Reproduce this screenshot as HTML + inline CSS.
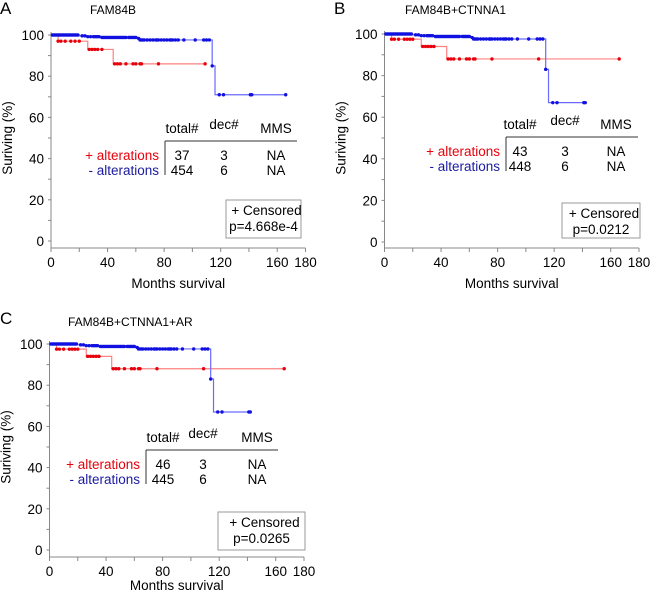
<!DOCTYPE html>
<html><head><meta charset="utf-8"><style>
body{margin:0;background:#fff}
svg{display:block;font-family:"Liberation Sans",Arial,sans-serif}
</style></head><body>
<svg id="c" width="650" height="596" viewBox="0 0 650 596"></svg>
<script>
// ---- data ----
const xTicks = [0,40,80,120,160,180];
const yTicks = [0,20,40,60,80,100];
// Panel A
const aTitle = "FAM84B";
const aRedTimes = [0,5,26,44,109];
const aRedSurv = [100,97,93,86,86];
const aRedCens = [5,7,10,14,17,20,27,29,31,33,36,45,47,49,53,58,60,63,64,76,109];
const aBlueTimes = [0,20,25,35,61,63,114,116,166];
const aBlueSurv = [100,99.6,99.2,98.8,98.3,97.6,85,71,71];
const aBlueCens = [1,2,3,4,5,6,7,8,9,10,11,12,13,14,15,16,17,18,19,22,24,26,28,30,31,32,33,34,36,37,38,39,40,41,42,43,44,45,46,47,48,49,50,51,52,53,55,56,57,58,59,60,62,63,64,65,66,68,70,72,74,75,76,78,80,82,84,85,86,88,90,94,102,108,110,112,114,119,122,141,142,166];
const aTable = [["37","3","NA"],["454","6","NA"]];
const aP = "p=4.668e-4";
// Panel B
const bTitle = "FAM84B+CTNNA1";
const bRedTimes = [0,5,26,44,166];
const bRedSurv = [100,97.5,94,88,88];
const bRedCens = [5,7,10,14,16,18,20,27,29,31,33,35,45,47,49,53,58,60,63,64,76,109,166];
const bBlueTimes = [0,20,25,35,61,63,114,116,142];
const bBlueSurv = [100,99.6,99.2,98.8,98.3,97.6,83,67,67];
const bBlueCens = [1,2,3,4,5,6,7,8,9,10,11,12,13,14,15,16,17,18,19,22,24,26,28,30,31,32,33,34,36,37,38,39,40,41,42,43,44,45,46,47,48,49,50,51,52,53,55,56,57,58,59,60,62,63,64,65,66,68,70,72,74,75,76,78,80,82,84,85,86,88,90,94,102,108,110,112,114,119,122,141,142];
const bTable = [["43","3","NA"],["448","6","NA"]];
const bP = "p=0.0212";
// Panel C
const cTitle = "FAM84B+CTNNA1+AR";
const cRedTimes = [0,5,26,44,166];
const cRedSurv = [100,97.5,94,88,88];
const cRedCens = bRedCens;
const cBlueTimes = bBlueTimes;
const cBlueSurv = bBlueSurv;
const cBlueCens = bBlueCens;
const cTable = [["46","3","NA"],["445","6","NA"]];
const cP = "p=0.0265";

const svg = document.getElementById('c');
const NS = "http://www.w3.org/2000/svg";
function mk(tag, attrs, parent){
  const e = document.createElementNS(NS, tag);
  for (const k in attrs) e.setAttribute(k, attrs[k]);
  (parent||svg).appendChild(e); return e;
}
function txt(s, x, y, size, fill, anchor, parent){
  const t = mk('text', {x:x, y:y, 'font-size':size, fill:fill, 'text-anchor':anchor||'start'}, parent);
  t.textContent = s; return t;
}
function stepFn(times, surv, t){
  let v = surv[0];
  for (let i=0;i<times.length;i++) if (times[i] <= t) v = surv[i];
  return v;
}
function panel(cfg){
  const g = mk('g', {});
  
  
  const X = m => cfg.x0 + m*cfg.ppm;
  const Y = v => cfg.y0 - v*(cfg.y0-cfg.y100)/100;
  const L = txt(cfg.letter, cfg.lx, cfg.ly, 17, '#000', 'start', g);
   
  const T = txt(cfg.title, cfg.tx, cfg.ty, 12, '#000', 'start', g);
   
  const ax = mk('g', {stroke:'#888', 'stroke-width':1}, g);
   
  mk('line', {x1:cfg.x0, y1:Y(100)-3, x2:cfg.x0, y2:cfg.axY}, ax);
  mk('line', {x1:cfg.x0, y1:cfg.axY, x2:X(180), y2:cfg.axY}, ax);
  for (let v=0; v<=100; v+=10) mk('line', {x1:cfg.x0-3, y1:Y(v), x2:cfg.x0, y2:Y(v)}, ax);
  for (let m=0; m<=180; m+=20) mk('line', {x1:X(m), y1:cfg.axY, x2:X(m), y2:cfg.axY+4}, ax);
  yTicks.forEach(v => {
    const t = txt(String(v), cfg.x0-7, Y(v)+5, 13.5, '#000', 'end', g);
     
  });
  xTicks.forEach(m => {
    if (X(m) > 650) return;
    const t = txt(String(m), X(m), cfg.axY+19, 13.5, '#000', 'middle', g);
     
  });
  const yl = txt('Suriving (%)', 0, 0, 13.5, '#000', 'middle', g);
  yl.setAttribute('transform', `translate(${cfg.x0-39},${(Y(0)+Y(100))/2}) rotate(-90)`);
   
  const xl = txt('Months survival', X(90), cfg.axY+cfg.xlOff, 13.5, '#000', 'middle', g);
   
  function series(times, surv, cens, lineCol, dotCol, nm){
    let d = `M${X(times[0])},${Y(surv[0])}`;
    for (let i=1;i<times.length;i++){
      d += ` H${X(times[i])} V${Y(surv[i])}`;
    }
    const p = mk('path', {d:d, fill:'none', stroke:lineCol, 'stroke-width':1.2}, g);
     
    cens.forEach(m => {
      const c = mk('circle', {cx:X(m), cy:Y(stepFn(times, surv, m)), r:1.7, fill:dotCol}, g);
       
    });
  }
  series(cfg.redT, cfg.redS, cfg.redC, '#ff8080', '#e8000b', 'altered');
  series(cfg.blueT, cfg.blueS, cfg.blueC, '#6a6aff', '#1010e0', 'unaltered');
  const tb = cfg.tb;
  const tg = mk('g', {}, g);
   
  mk('line', {x1:tb.lx, y1:tb.ly, x2:tb.rx, y2:tb.ly, stroke:'#333', 'stroke-width':1}, tg);
  mk('line', {x1:tb.lx, y1:tb.ly, x2:tb.lx, y2:tb.ly+34, stroke:'#333', 'stroke-width':1}, tg);
  ['total#','dec#','MMS'].forEach((h,i)=>{
    txt(h, tb.cols[i], tb.ly-(i==1?12:8), 13.5, '#000', 'middle', tg);
  });
  txt('+ alterations', tb.lx-6, tb.ly+19, 13.5, '#e8000b', 'end', tg);
  txt('- alterations', tb.lx-6, tb.ly+34, 13.5, '#1a1aa0', 'end', tg);
  cfg.table.forEach((row,r)=>row.forEach((v,i)=>{
    txt(v, tb.cols[i], tb.ly+19+r*15, 13.5, '#000', 'middle', tg);
  }));
  const lb = cfg.lb;
  const lg = mk('g', {}, g);
   
  mk('rect', {x:lb.x, y:lb.y, width:lb.w, height:lb.h, fill:'#fff', stroke:'#999', 'stroke-width':1}, lg);
  txt('+ Censored', lb.x+lb.w/2+3, lb.y+15, 13.5, '#000', 'middle', lg);
  txt(cfg.p, lb.x+lb.w/2, lb.y+31, 13.5, '#000', 'middle', lg);
}
panel({name:'panel-a', letter:'A', lx:0, ly:14, title:aTitle, tx:90, ty:14,
  x0:51, ppm:254.5/180, y0:241, y100:35, axY:248, xlOff:40,
  redT:aRedTimes, redS:aRedSurv, redC:aRedCens, blueT:aBlueTimes, blueS:aBlueSurv, blueC:aBlueCens,
  tb:{lx:165, rx:297, ly:141, cols:[182,224,276]}, table:aTable,
  lb:{x:226, y:200, w:75, h:38}, p:aP});
panel({name:'panel-b', letter:'B', lx:334, ly:14, title:bTitle, tx:405, ty:14,
  x0:384.5, ppm:254.5/180, y0:242, y100:34, axY:248, xlOff:40,
  redT:bRedTimes, redS:bRedSurv, redC:bRedCens, blueT:bBlueTimes, blueS:bBlueSurv, blueC:bBlueCens,
  tb:{lx:506, rx:638, ly:137, cols:[520,565,616]}, table:bTable,
  lb:{x:562, y:203, w:78, h:35}, p:bP});
panel({name:'panel-c', letter:'C', lx:0, ly:324, title:cTitle, tx:68, ty:326,
  x0:49.5, ppm:254.5/180, y0:550, y100:344, axY:557, xlOff:33,
  redT:cRedTimes, redS:cRedSurv, redC:cRedCens, blueT:cBlueTimes, blueS:cBlueSurv, blueC:cBlueCens,
  tb:{lx:146, rx:278, ly:450, cols:[163,203,257]}, table:cTable,
  lb:{x:218, y:512, w:87, h:38}, p:cP});
</script>
</body></html>
